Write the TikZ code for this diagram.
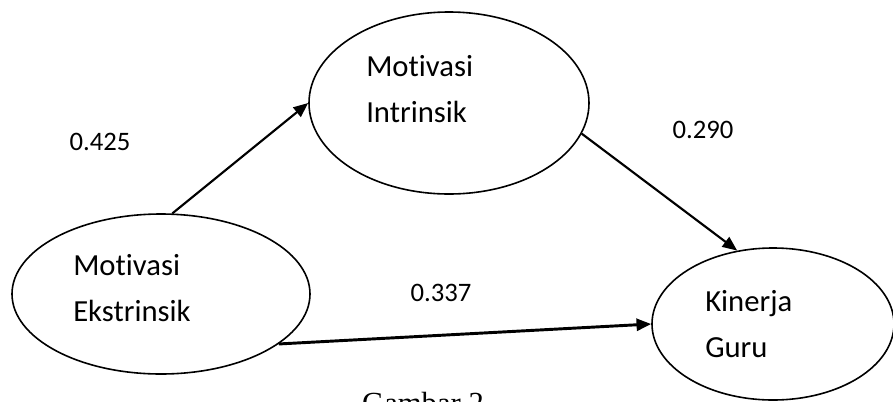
\documentclass[tikz,border=0pt]{standalone}
\usepackage{fontspec}
\setmainfont{Carlito}[Ligatures=NoCommon]
\newfontfamily\captionfont{Liberation Serif}
\usetikzlibrary{arrows.meta,positioning,shapes.geometric}

\begin{document}
\begin{tikzpicture}[
      x=0.75pt, y=-0.75pt,
      myellipse/.style={
         ellipse,
         draw=black,
         line width=1.2pt,
         inner sep=0pt},
      mytext/.style={
         anchor=west,
         align=left,
         inner sep=0pt,
         font=\fontsize{23}{34}\selectfont},
      mylabel/.style={font=\fontsize{20}{22}\selectfont, inner sep=0pt},
      myarrow/.style={-{Triangle[length=11pt,width=9pt]}, line width=1.6pt}
      ]
\clip (0,0) rectangle (893,401);
\useasboundingbox (0,0) rectangle (893,401);

% latent variables
\node[myellipse,minimum width=210pt,minimum height=136.5pt] (mi) at (449,103) {};
\node[myellipse,minimum width=223.5pt,minimum height=120pt] (me) at (161,294) {};
\node[myellipse,minimum width=181.5pt,minimum height=114pt] (kg) at (773,324) {};

\node[mytext] (mitext) at (366,89) {Motivasi\\Intrinsik};
\node[mytext] (metext) at (73,288) {Motivasi\\Ekstrinsik};
\node[mytext] (kgtext) at (705,324) {Kinerja\\Guru};

% path coefficients
\node[mylabel] (c1) at (100,142) {0.425};
\node[mylabel] (c2) at (703,130) {0.290};
\node[mylabel] (c3) at (441,293) {0.337};

\foreach \i/\j in {% start/end
      me.82/mi.west,
      mi.-13/kg.116}
       \draw[myarrow] (\i) -- (\j);
\draw[myarrow, line width=2.2pt] (me.-23) -- (kg.west);

\node[font=\captionfont\fontsize{23}{25}\selectfont, anchor=base] (cap) at (423,413) {Gambar 2};

\end{tikzpicture}
\end{document}
